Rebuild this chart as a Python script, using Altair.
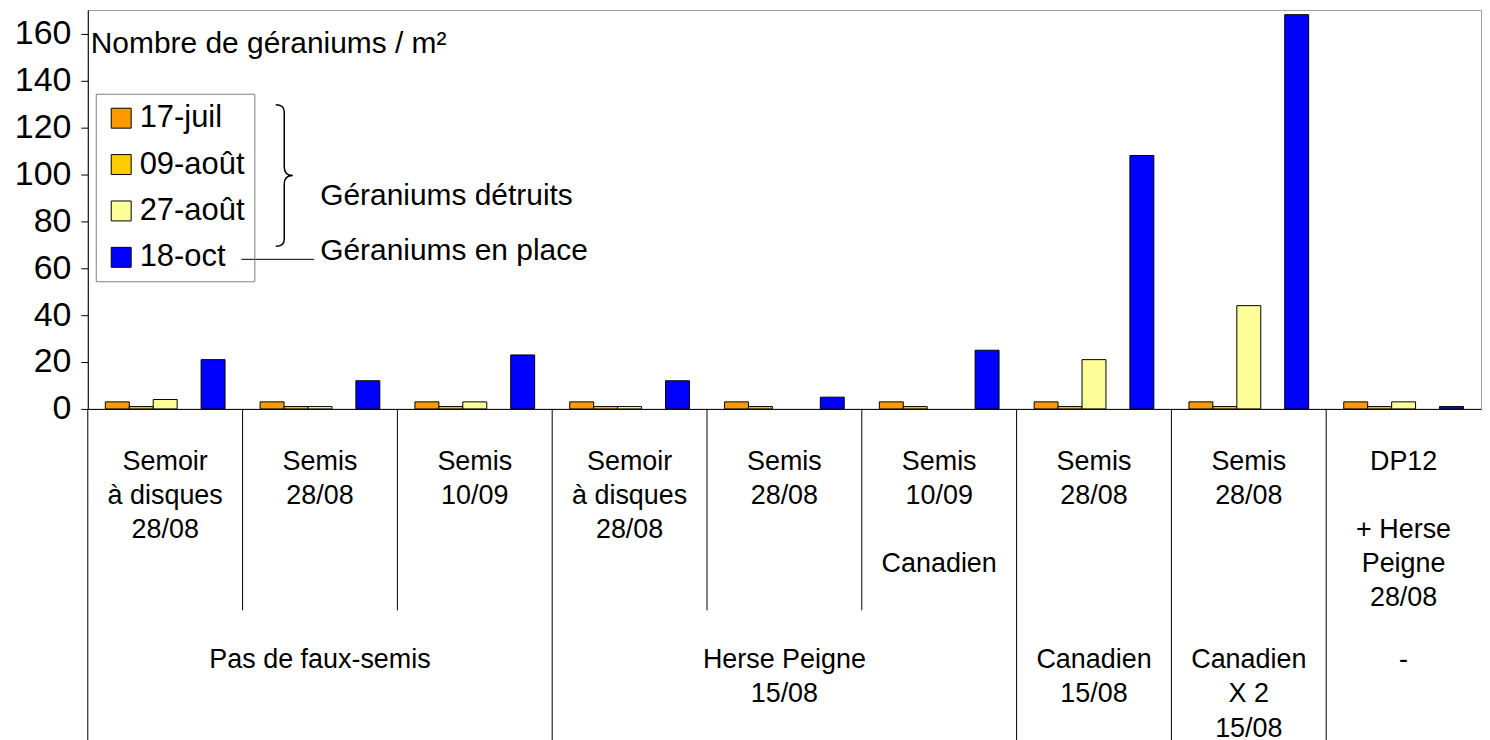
import altair as alt
import pandas as pd

FONT = "Liberation Sans"

# ---------------- data ----------------
groups = ["g1", "g2", "g3", "g4", "g5", "g6", "g7", "g8", "g9"]
series = ["17-juil", "09-août", "27-août", "18-oct"]
colors = ["#FF9900", "#FFCC00", "#FFFF99", "#0000FF"]
slots = ["17-juil", "09-août", "27-août", "_vide", "18-oct"]

v_17juil = [3, 3, 3, 3, 3, 3, 3, 3, 3]
v_09aout = [1, 1, 1, 1, 1, 1, 1, 1, 1]
v_27aout = [4, 1, 3, 1, 0, 0, 21, 44, 3]
v_18oct = [21, 12, 23, 12, 5, 25, 108, 168, 1]

inner_labels = [
    ["Semoir", "à disques", "28/08"],
    ["Semis", "28/08"],
    ["Semis", "10/09"],
    ["Semoir", "à disques", "28/08"],
    ["Semis", "28/08"],
    ["Semis", "10/09", "", "Canadien"],
    ["Semis", "28/08"],
    ["Semis", "28/08"],
    ["DP12", "", "+ Herse", "Peigne", "28/08"],
]
outer_labels = [
    (0, 3, ["Pas de faux-semis"]),
    (3, 6, ["Herse Peigne", "15/08"]),
    (6, 7, ["Canadien", "15/08"]),
    (7, 8, ["Canadien", "X 2", "15/08"]),
    (8, 9, ["-"]),
]
inner_bounds = [1, 2, 4, 5]
outer_bounds = [0, 3, 6, 7, 8]

title_text = "Nombre de géraniums / m²"
note_destroyed = "Géraniums détruits"
note_inplace = "Géraniums en place"

# ---------------- tables ----------------
rows = []
for s, vals in zip(series, [v_17juil, v_09aout, v_27aout, v_18oct]):
    for g, v in zip(groups, vals):
        rows.append({"group": g, "series": s, "value": v})
df = pd.DataFrame(rows)

txt = []
for i, lines in enumerate(inner_labels):
    for k, t in enumerate(lines):
        if t:
            txt.append({"x": i + 0.5, "line": k, "t": t})
for a, b, lines in outer_labels:
    for k, t in enumerate(lines):
        txt.append({"x": (a + b) / 2, "line": 5.81 + k, "t": t})
txt_df = pd.DataFrame(txt)

sep = [{"x": b, "y1": -1.547, "y2": 4.35} for b in inner_bounds] + \
      [{"x": b, "y1": -1.547, "y2": 8.146} for b in outer_bounds]
sep_df = pd.DataFrame(sep)

W = 1397
H = 400

# ---------------- top chart ----------------
bars = alt.Chart(df).transform_filter("datum.value > 0").mark_bar(
    stroke="black", strokeWidth=1
).encode(
    x=alt.X("group:N", sort=groups,
            scale=alt.Scale(paddingInner=0, paddingOuter=0),
            axis=alt.Axis(labels=False, ticks=False, title=None, grid=False,
                          domainColor="black", domainWidth=1)),
    xOffset=alt.XOffset("series:N",
                        scale=alt.Scale(domain=slots, paddingInner=0, paddingOuter=0.733)),
    y=alt.Y("value:Q", scale=alt.Scale(domain=[0, 170], nice=False),
            axis=alt.Axis(values=list(range(0, 161, 20)), title=None, grid=False,
                          domainColor="black", tickColor="black", tickSize=7,
                          labelFontSize=34, labelFont=FONT, labelColor="black",
                          labelPadding=10)),
    color=alt.Color("series:N", scale=alt.Scale(domain=series, range=colors),
                    legend=alt.Legend(title=None, orient="none", legendX=8, legendY=84,
                                      direction="vertical", symbolType="square",
                                      symbolSize=400, symbolStrokeColor="black",
                                      symbolStrokeWidth=1, labelFontSize=31,
                                      labelFont=FONT, labelColor="black",
                                      labelOffset=3, rowPadding=14.5, padding=9,
                                      symbolOffset=1, strokeColor="#808080")),
)

one = pd.DataFrame({"t": [title_text]})
title = alt.Chart(one).mark_text(align="left", baseline="middle", fontSize=30,
                                 font=FONT, color="black").encode(
    x=alt.value(3), y=alt.value(34), text="t:N")

note1 = alt.Chart(pd.DataFrame({"t": [note_destroyed]})).mark_text(
    align="left", baseline="middle", fontSize=30, font=FONT, color="black").encode(
    x=alt.value(233), y=alt.value(187), text="t:N")
note2 = alt.Chart(pd.DataFrame({"t": [note_inplace]})).mark_text(
    align="left", baseline="middle", fontSize=30, font=FONT, color="black").encode(
    x=alt.value(233), y=alt.value(242), text="t:N")

brace_path = ("M -0.12 -1 Q 0 -1 0 -0.9 L 0 -0.12 Q 0 0 0.12 0 "
              "Q 0 0 0 0.12 L 0 0.9 Q 0 1 -0.12 1")
brace = alt.Chart(one).mark_point(shape=brace_path, size=142 * 142, filled=False,
                                  stroke="black", strokeWidth=1.5, opacity=1).encode(
    x=alt.value(197), y=alt.value(166))

connector = alt.Chart(one).mark_rule(color="black", strokeWidth=1).encode(
    x=alt.value(154), x2=alt.value(227), y=alt.value(250))

top = alt.layer(bars, title, note1, note2, brace, connector).properties(
    width=W, height=H,
    view=alt.ViewBackground(stroke="#a0a0a0", strokeWidth=1))

# ---------------- bottom label panel ----------------
xs = alt.Scale(domain=[0, 9], nice=False, zero=False)
ys = alt.Scale(domain=[-1.547, 8.146], nice=False, zero=False, reverse=True)

labels = alt.Chart(txt_df).mark_text(fontSize=27, font=FONT, color="black",
                                     baseline="middle", align="center").encode(
    x=alt.X("x:Q", scale=xs, axis=None),
    y=alt.Y("line:Q", scale=ys, axis=None),
    text="t:N")

seps = alt.Chart(sep_df).mark_rule(color="black", strokeWidth=1).encode(
    x=alt.X("x:Q", scale=xs, axis=None),
    y=alt.Y("y1:Q", scale=ys, axis=None),
    y2="y2:Q")

bottom = alt.layer(seps, labels).properties(width=W, height=332)

chart = alt.vconcat(top, bottom, spacing=0, bounds="flush",
                    padding={"left": 5, "top": 0, "right": 0, "bottom": 0}
                    ).configure_view(stroke="transparent")

chart.save("out.html", embed_options={"renderer": "svg", "actions": False})
